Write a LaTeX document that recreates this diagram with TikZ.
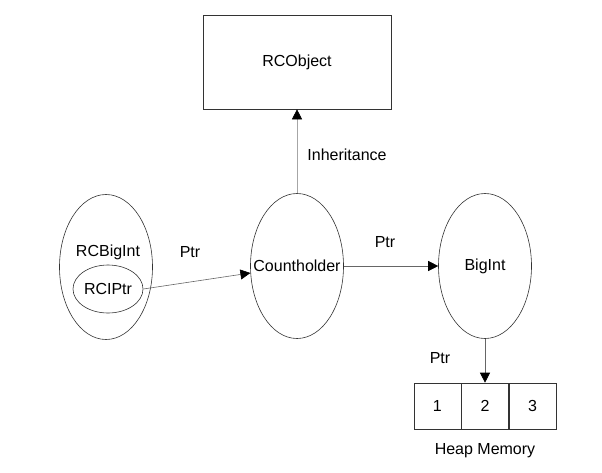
\documentclass[tikz,border=0pt]{standalone}
\usepackage{fontspec}
\setmainfont{Liberation Sans}
\usetikzlibrary{shapes.geometric,positioning,arrows.meta}

\begin{document}
\begin{tikzpicture}[x=1pt,y=-1pt]
\tikzstyle{main}=[ellipse, draw=black!80, line width=0.6pt, minimum width=93pt, minimum height=145pt, inner sep=0pt]
\tikzstyle{inner}=[ellipse, draw=black!80, line width=0.6pt, minimum width=70pt, minimum height=48pt, inner sep=0pt]
\tikzstyle{box}=[rectangle, draw=black!80, line width=0.6pt, minimum width=188pt, minimum height=94pt]
\tikzstyle{cell}=[rectangle, draw=black!80, line width=0.6pt, minimum width=47pt, minimum height=46pt, inner sep=0pt]
\tikzstyle{connect}=[-{Triangle[length=10pt,width=10pt,black]}, line width=0.6pt, draw=black!60]
\tikzstyle{lbl}=[inner sep=0pt]
\useasboundingbox (0,0) rectangle (602,472);
\fontsize{16}{19}\selectfont
  \node[box] (rcobject) at (297,62) {RCObject};
  \node[main, label=center:Countholder] (count) at (297,266) {};
  \node[main, label=center:BigInt] (bigint) at (485,266) {};
  \node[main] (rcbigint) at (106,267) {};
  \node[lbl] (rcbiglbl) at (108,252) {RCBigInt};
  \node[inner] (rciptr) at (108,289) {RCIPtr};
\node[cell] (c2) at (485,406) {2};
\node[cell] (c1) [left=0pt of c2] {1};
\node[cell] (c3) [right=0pt of c2] {3};
  \node[lbl] (heap) [below=14pt of c2] {Heap Memory};
  \node[lbl] (inh) at (347,155) {Inheritance};
  \node[lbl] (ptr1) at (190,252) {Ptr};
  \node[lbl] (ptr2) at (385,242) {Ptr};
  \node[lbl] (ptr3) at (440,358) {Ptr};
  \path (count) edge[connect, draw=black!35] (rcobject)
           (rciptr.east) edge[connect] (count)
           (count) edge[connect] (bigint)
           (bigint) edge[connect] (c2)
           ;
\end{tikzpicture}
\end{document}
